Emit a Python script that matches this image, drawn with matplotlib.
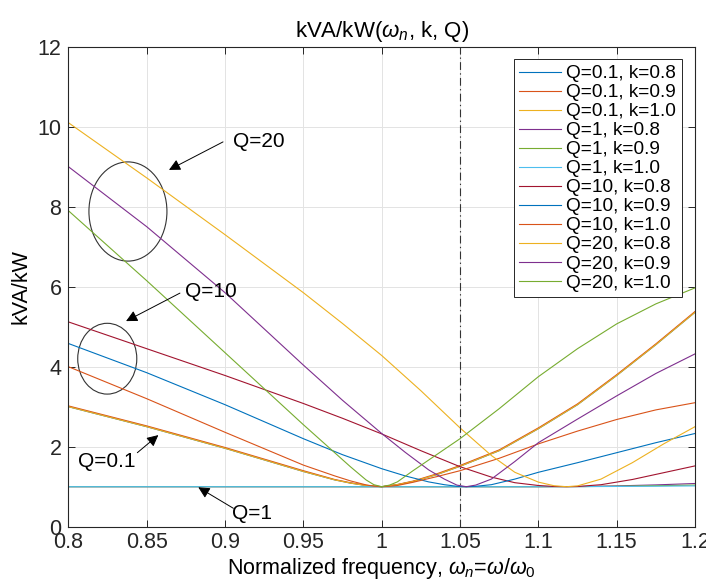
import matplotlib
matplotlib.use("Agg")
import matplotlib.pyplot as plt
from matplotlib.patches import Ellipse

plt.rcParams['font.family'] = ['Liberation Sans', 'DejaVu Sans']
plt.rcParams['mathtext.fontset'] = 'custom'
plt.rcParams['mathtext.rm'] = 'Liberation Sans'
plt.rcParams['mathtext.it'] = 'Liberation Sans:italic'

# values, one (w_n, kVA/kW) list pair per curve
# Q = 0.1 (the three k curves sit on top of each other)
w_q01 = [0.80, 0.85, 0.90, 0.95, 0.97, 0.98, 0.99, 1.00, 1.01, 1.02,
         1.035, 1.05, 1.075, 1.10, 1.125, 1.15, 1.175, 1.20]
q01_k08 = [3.0, 2.5, 1.96, 1.38, 1.17, 1.09, 1.03, 1.0, 1.05, 1.13,
           1.3, 1.51, 1.9, 2.45, 3.05, 3.78, 4.55, 5.36]
q01_k09 = [3.02, 2.52, 1.98, 1.4, 1.18, 1.1, 1.035, 1.0, 1.055, 1.14,
           1.32, 1.53, 1.92, 2.47, 3.07, 3.8, 4.57, 5.38]
q01_k10 = [3.0, 2.5, 1.96, 1.38, 1.17, 1.09, 1.03, 1.0, 1.05, 1.13,
           1.3, 1.51, 1.9, 2.45, 3.05, 3.78, 4.55, 5.36]

# Q = 1 (almost flat at 1)
w_q1 = [0.80, 1.00, 1.10, 1.13, 1.15, 1.175, 1.20]
q1_k08 = [1.0, 1.0, 1.0, 1.005, 1.02, 1.045, 1.08]
q1_k09 = [1.0, 1.0, 1.0, 1.004, 1.012, 1.025, 1.04]
q1_k10 = [1.0, 1.0, 1.0, 1.002, 1.006, 1.012, 1.02]

# k = 0.8, Q = 10 and 20 (minimum near 1.118)
w_k08 = [0.80, 0.85, 0.90, 0.95, 0.975, 1.00, 1.025, 1.05, 1.07, 1.085,
         1.10, 1.11, 1.118, 1.125, 1.14, 1.16, 1.18, 1.20]
q10_k08 = [5.12, 4.45, 3.78, 3.08, 2.71, 2.32, 1.9, 1.5, 1.24, 1.1,
           1.03, 1.006, 1.0, 1.005, 1.05, 1.18, 1.35, 1.52]
q20_k08 = [10.1, 8.72, 7.3, 5.85, 5.08, 4.28, 3.4, 2.47, 1.78, 1.36,
           1.115, 1.024, 1.0, 1.02, 1.19, 1.6, 2.07, 2.5]

# k = 0.9, Q = 10 and 20 (minimum near 1.054)
w_k09 = [0.80, 0.85, 0.90, 0.95, 0.975, 1.00, 1.015, 1.03, 1.04, 1.048,
         1.054, 1.06, 1.07, 1.085, 1.10, 1.125, 1.15, 1.175, 1.20]
q10_k09 = [4.58, 3.85, 3.05, 2.2, 1.8, 1.45, 1.27, 1.12, 1.05, 1.01,
           1.0, 1.01, 1.05, 1.19, 1.36, 1.6, 1.85, 2.1, 2.33]
q20_k09 = [9.0, 7.5, 5.85, 4.04, 3.16, 2.33, 1.86, 1.42, 1.19, 1.04,
           1.0, 1.04, 1.19, 1.63, 2.1, 2.69, 3.27, 3.83, 4.32]

# k = 1.0, Q = 10 and 20 (minimum at 1.0)
w_k10 = [0.80, 0.85, 0.90, 0.95, 0.97, 0.98, 0.99, 0.995, 1.00, 1.005,
         1.01, 1.02, 1.035, 1.05, 1.075, 1.10, 1.125, 1.15, 1.175, 1.20]
q10_k10 = [4.0, 3.2, 2.36, 1.54, 1.27, 1.146, 1.045, 1.013, 1.0, 1.01,
           1.03, 1.11, 1.25, 1.4, 1.71, 2.07, 2.39, 2.68, 2.92, 3.1]
q20_k10 = [7.9, 6.15, 4.35, 2.55, 1.85, 1.5, 1.17, 1.05, 1.0, 1.04,
           1.12, 1.4, 1.8, 2.2, 2.95, 3.75, 4.45, 5.07, 5.57, 5.97]

curves = [(w_q01, q01_k08, 'Q=0.1, k=0.8'), (w_q01, q01_k09, 'Q=0.1, k=0.9'),
          (w_q01, q01_k10, 'Q=0.1, k=1.0'), (w_q1, q1_k08, 'Q=1, k=0.8'),
          (w_q1, q1_k09, 'Q=1, k=0.9'), (w_q1, q1_k10, 'Q=1, k=1.0'),
          (w_k08, q10_k08, 'Q=10, k=0.8'), (w_k09, q10_k09, 'Q=10, k=0.9'),
          (w_k10, q10_k10, 'Q=10, k=1.0'), (w_k08, q20_k08, 'Q=20, k=0.8'),
          (w_k09, q20_k09, 'Q=20, k=0.9'), (w_k10, q20_k10, 'Q=20, k=1.0')]
matlab_colors = ['#0072BD', '#D95319', '#EDB120', '#7E2F8E',
                 '#77AC30', '#4DBEEE', '#A2142F']

xticks = [0.8, 0.85, 0.9, 0.95, 1.0, 1.05, 1.1, 1.15, 1.2]
xticklabels = ['0.8', '0.85', '0.9', '0.95', '1', '1.05', '1.1', '1.15', '1.2']
yticks = [0, 2, 4, 6, 8, 10, 12]

fig = plt.figure(figsize=(7.06, 5.86), dpi=100)
ax = fig.add_axes([0.0969, 0.1012, 0.8875, 0.8191])

for i, (xs, ys, lab) in enumerate(curves):
    ax.plot(xs, ys, color=matlab_colors[i % 7], lw=0.8, label=lab)

ax.axvline(1.05, color='#333333', lw=0.8, dashes=(7, 3, 1.2, 3))

# ellipses around groups
ax.add_patch(Ellipse((0.838, 7.88), 0.0498, 2.48, fill=False,
                     ec='#333333', lw=0.8))
ax.add_patch(Ellipse((0.8248, 4.2), 0.0377, 1.77, fill=False,
                     ec='#333333', lw=0.8))

arrow = dict(arrowstyle='-|>', color='black', lw=0.7,
             mutation_scale=17, shrinkA=0, shrinkB=0)
notes = [('Q=20', (0.9216, 9.64), (0.8987, 9.62), (0.8642, 8.92)),
         ('Q=10', (0.891, 5.87), (0.8712, 5.84), (0.8368, 5.14)),
         ('Q=0.1', (0.8246, 1.62), (0.844, 1.85), (0.8574, 2.29)),
         ('Q=1', (0.9172, 0.34), (0.9053, 0.46), (0.8829, 0.985))]
for txt, pos, tail, tip in notes:
    ax.annotate('', xy=tip, xytext=tail, arrowprops=arrow)
    ax.text(pos[0], pos[1], txt, fontsize=15, ha='center', va='center')

ax.set_xlim(0.8, 1.2)
ax.set_ylim(0, 12)
ax.set_xticks(xticks)
ax.set_xticklabels(xticklabels)
ax.set_yticks(yticks)
ax.grid(True, color='#e3e3e3', lw=0.7)
ax.set_axisbelow(True)
ax.tick_params(direction='in', length=5, width=0.7, colors='#262626',
               labelsize=15.5, top=True, right=True)
ax.tick_params(axis='x', pad=4)
ax.tick_params(axis='y', pad=5)
for s in ax.spines.values():
    s.set_color('#262626')
    s.set_linewidth(0.8)

ax.set_title(r'kVA/kW($\omega_n$, k, Q)', fontsize=16, pad=7)
ax.set_xlabel(r'Normalized frequency, $\omega_n$=$\omega$/$\omega_0$',
              fontsize=15.5, labelpad=2)
ax.set_ylabel('kVA/kW', fontsize=15.5, labelpad=4)

leg = ax.legend(loc='upper right', bbox_to_anchor=(0.979, 0.974),
                fontsize=13.7, frameon=True, fancybox=False,
                edgecolor='#262626', framealpha=1, labelspacing=0.09,
                handlelength=2.2, handletextpad=0.26, borderpad=0.3,
                borderaxespad=0)
leg.get_frame().set_linewidth(0.7)

fig.savefig('out.png', dpi=100)
